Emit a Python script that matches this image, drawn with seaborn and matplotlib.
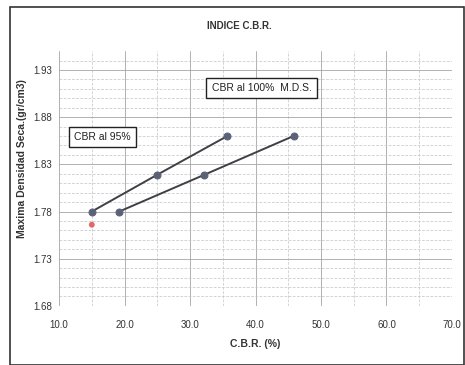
import numpy as np
import pandas as pd
import seaborn as sns
import matplotlib.pyplot as plt
from matplotlib.patches import Rectangle

# values
cbr_100 = [15.0, 25.0, 35.7]
mds_100 = [1.780, 1.819, 1.860]
cbr_95 = [19.2, 32.2, 45.8]
mds_95 = [1.780, 1.819, 1.860]
red_cbr = [15.0]
red_mds = [1.766]
x_ticks = [10.0, 20.0, 30.0, 40.0, 50.0, 60.0, 70.0]
y_ticks = [1.68, 1.73, 1.78, 1.83, 1.88, 1.93]

data = pd.DataFrame({
    'cbr': cbr_100 + cbr_95,
    'mds': mds_100 + mds_95,
    'serie': ['100'] * len(cbr_100) + ['95'] * len(cbr_95),
})

sns.set_style('white')
plt.rcParams['font.family'] = ['Liberation Sans', 'DejaVu Sans']

fig = plt.figure(figsize=(4.65, 3.65), dpi=100)
ax = fig.add_axes([0.127, 0.162, 0.845, 0.698])

sns.lineplot(data=data, x='cbr', y='mds', hue='serie', units='serie', estimator=None,
             palette=['#3f4045', '#3f4045'], marker='o', markersize=5,
             markerfacecolor='#5b6278', markeredgecolor='#5b6278',
             linewidth=1.4, legend=False, ax=ax, sort=False)
sns.scatterplot(x=red_cbr, y=red_mds, color='#e06a6a', s=18, edgecolor='none', ax=ax)

ax.set_xlim(10, 70)
ax.set_ylim(1.68, 1.95)
ax.set_xticks(x_ticks)
ax.set_xticklabels([f'{v:.1f}' for v in x_ticks], fontsize=7, color='#333333')
ax.set_yticks(y_ticks)
ax.set_yticklabels([f'{v:.2f}' for v in y_ticks], fontsize=7, color='#333333')
ax.set_xticks(np.arange(15, 70, 10), minor=True)
ax.set_yticks(np.arange(1.69, 1.95, 0.01), minor=True)
ax.grid(True, which='major', color='#a5a5a5', linewidth=0.6)
ax.grid(True, which='minor', color='#c4c4c4', linewidth=0.5, linestyle=(0, (4, 2)))
ax.tick_params(axis='x', which='both', length=0, pad=10)
ax.tick_params(axis='y', which='both', length=0, pad=5)
for s in ax.spines.values():
    s.set_visible(False)

ax.set_xlabel('C.B.R. (%)', fontsize=7.5, fontweight='bold', color='#333333', labelpad=7)
ax.set_ylabel('Maxima Densidad Seca.(gr/cm3)', fontsize=7.5, fontweight='bold',
              color='#333333')
ax.yaxis.set_label_coords(-0.082, 0.58)
fig.text(0.515, 0.93, 'INDICE C.B.R.', fontsize=7, fontweight='bold',
         color='#333333', ha='center', va='center')

box = dict(boxstyle='square,pad=0.5', facecolor='white', edgecolor='#222222', linewidth=1.0)
ax.text(33.3, 1.911, 'CBR al 100%  M.D.S.', fontsize=7.5, color='#222222', bbox=box,
        va='center')
ax.text(12.3, 1.859, 'CBR al 95%', fontsize=7.5, color='#222222', bbox=box, va='center')

fig.patches.append(Rectangle((0.022, 0.0), 0.976, 0.98, transform=fig.transFigure,
                             fill=False, edgecolor='#333333', linewidth=1.2))

fig.savefig('out.png', dpi=100)
